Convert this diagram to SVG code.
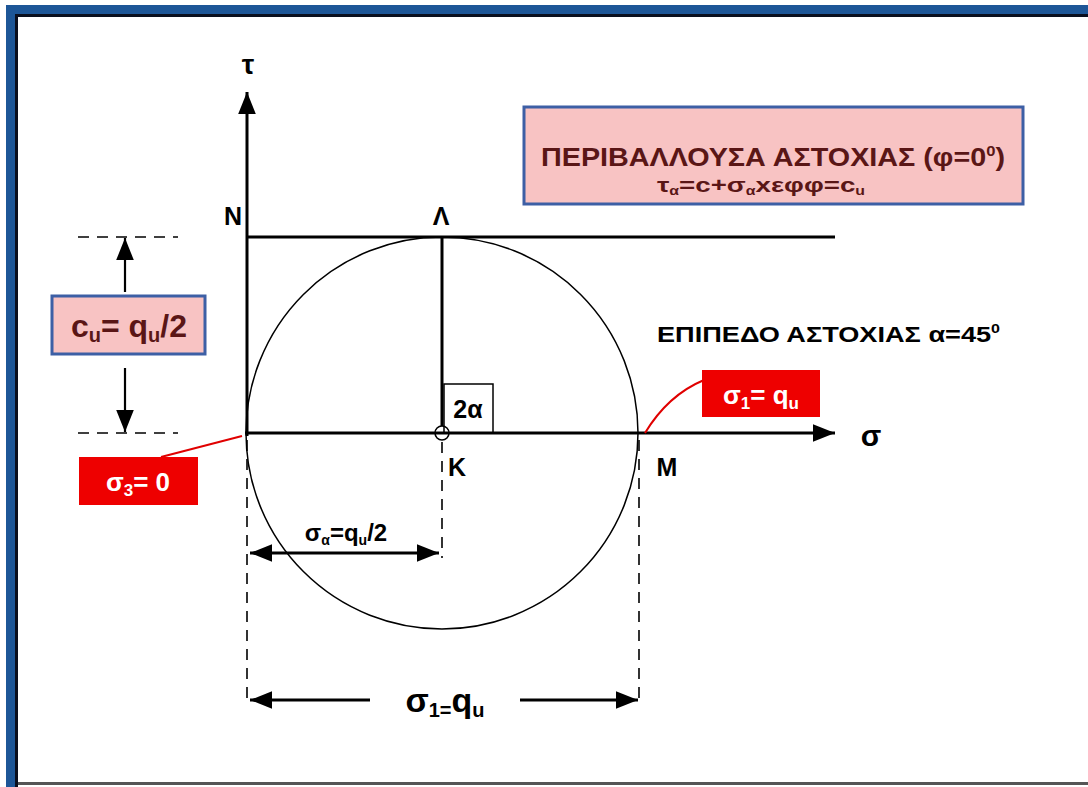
<svg xmlns="http://www.w3.org/2000/svg" width="1088" height="787" viewBox="0 0 1088 787">
<style>
.ln{stroke:#000;stroke-width:3;fill:none}
.ln2{stroke:#000;stroke-width:2.2;fill:none}
.thin{stroke:#000;stroke-width:1.5;fill:none}
.dash{stroke:#000;stroke-width:1.6;fill:none;stroke-dasharray:11,8}
.t{font-family:"Liberation Sans",Arial,sans-serif;font-weight:bold;fill:#000}
.m{fill:#5a1616}
.w{fill:#fff}
.pink{fill:#f8c3c3;stroke:#3d5fa5;stroke-width:3}
.red{fill:#ee0000}
.rl{stroke:#e00000;stroke-width:2;fill:none}
</style>
<defs>
<marker id="ahb" viewBox="0 0 10 10" refX="10" refY="5" markerWidth="22" markerHeight="22" markerUnits="userSpaceOnUse" orient="auto-start-reverse">
<path d="M0,1 L10,5 L0,9 z" fill="#000"/>
</marker>
</defs>
<rect width="1088" height="787" fill="#fff"/>
<g id="frame">
<rect x="6" y="5" width="1082" height="9" fill="#1d5697"/>
<rect x="6" y="5" width="9" height="782" fill="#1d5697"/>
<rect x="15" y="14" width="1073" height="3" fill="#0a0f1e"/>
<rect x="15" y="14" width="3" height="773" fill="#0a0f1e"/>
<rect x="18" y="782" width="1070" height="3" fill="#555"/>
</g>
<g id="connectors">
<line class="ln" x1="247" y1="436" x2="247" y2="92" marker-end="url(#ahb)"/>
<line class="ln" x1="245" y1="433" x2="835" y2="433" marker-end="url(#ahb)"/>
<line class="ln" x1="247" y1="237" x2="835" y2="237"/>
<line class="ln" x1="442" y1="237" x2="442" y2="426"/>
<circle class="thin" cx="442" cy="433" r="196"/>
<circle class="thin" cx="442" cy="433" r="7" fill="#fff"/>
<rect class="thin" x="444" y="384" width="49" height="49"/>
<line class="dash" x1="247" y1="440" x2="247" y2="706"/>
<line class="dash" x1="442" y1="442" x2="442" y2="558"/>
<line class="dash" x1="639" y1="440" x2="639" y2="706"/>
<line class="ln" x1="250" y1="553" x2="439" y2="553" marker-start="url(#ahb)" marker-end="url(#ahb)"/>
<line class="ln" x1="250" y1="700" x2="370" y2="700" marker-start="url(#ahb)"/>
<line class="ln" x1="520" y1="700" x2="638" y2="700" marker-end="url(#ahb)"/>
<line class="dash" x1="78" y1="237" x2="178" y2="237"/>
<line class="dash" x1="78" y1="433" x2="178" y2="433"/>
<line class="ln2" x1="125" y1="292" x2="125" y2="238" marker-end="url(#ahb)"/>
<line class="ln2" x1="125" y1="368" x2="125" y2="432" marker-end="url(#ahb)"/>
<line class="rl" x1="161" y1="457" x2="242" y2="436"/>
<path class="rl" d="M704,380 Q668,395 645,433"/>
</g>
<g id="axis-labels">
<text class="t" x="248" y="74" font-size="28" text-anchor="middle">τ</text>
<text class="t" x="871" y="446" font-size="30" text-anchor="middle">σ</text>
<text class="t" x="233" y="225" font-size="25" text-anchor="middle">N</text>
<text class="t" x="441" y="225" font-size="25" text-anchor="middle">Λ</text>
<text class="t" x="457" y="476" font-size="25" text-anchor="middle">K</text>
<text class="t" x="667" y="476" font-size="25" text-anchor="middle">M</text>
<text class="t" x="468" y="418" font-size="25" text-anchor="middle">2α</text>
</g>
<g id="envelope-box">
<rect class="pink" x="524" y="107" width="499" height="97"/>
<text class="t m" x="541" y="166" font-size="26" textLength="464" lengthAdjust="spacingAndGlyphs">ΠΕΡΙΒΑΛΛΟΥΣΑ ΑΣΤΟΧΙΑΣ (φ=0<tspan font-size="15" dy="-10">0</tspan><tspan dy="10">)</tspan></text>
<text class="t m" x="657" y="192" font-size="21" textLength="208" lengthAdjust="spacingAndGlyphs">τ<tspan font-size="12" dy="3">α</tspan><tspan dy="-3">=c+σ</tspan><tspan font-size="12" dy="3">α</tspan><tspan dy="-3">xεφφ=c</tspan><tspan font-size="12" dy="3">u</tspan></text>
</g>
<g id="plane-label">
<text class="t" x="657" y="342" font-size="22" textLength="343" lengthAdjust="spacingAndGlyphs">ΕΠΙΠΕΔΟ ΑΣΤΟΧΙΑΣ α=45<tspan font-size="13" dy="-9">0</tspan></text>
</g>
<g id="cu-box">
<rect class="pink" x="52" y="296" width="153" height="58"/>
<text class="t m" x="129" y="337" font-size="32" text-anchor="middle">c<tspan font-size="20" dy="5">u</tspan><tspan dy="-5">= q</tspan><tspan font-size="20" dy="5">u</tspan><tspan dy="-5">/2</tspan></text>
</g>
<g id="sigma3-box">
<rect class="red" x="79" y="457" width="119" height="48"/>
<text class="t w" x="138" y="491" font-size="26" text-anchor="middle">σ<tspan font-size="17" dy="5">3</tspan><tspan dy="-5">= 0</tspan></text>
</g>
<g id="sigma1-box">
<rect class="red" x="702" y="370" width="118" height="47"/>
<text class="t w" x="761" y="404" font-size="26" text-anchor="middle">σ<tspan font-size="17" dy="5">1</tspan><tspan dy="-5">= q</tspan><tspan font-size="17" dy="5">u</tspan></text>
</g>
<g id="dim-labels">
<text class="t" x="346" y="541" font-size="24" text-anchor="middle">σ<tspan font-size="14" dy="4">α</tspan><tspan dy="-4">=q</tspan><tspan font-size="14" dy="4">u</tspan><tspan dy="-4">/2</tspan></text>
<text class="t" x="445" y="712" font-size="34" text-anchor="middle">σ<tspan font-size="20" dy="5">1=</tspan><tspan dy="-5">q</tspan><tspan font-size="20" dy="5">u</tspan></text>
</g>
</svg>
